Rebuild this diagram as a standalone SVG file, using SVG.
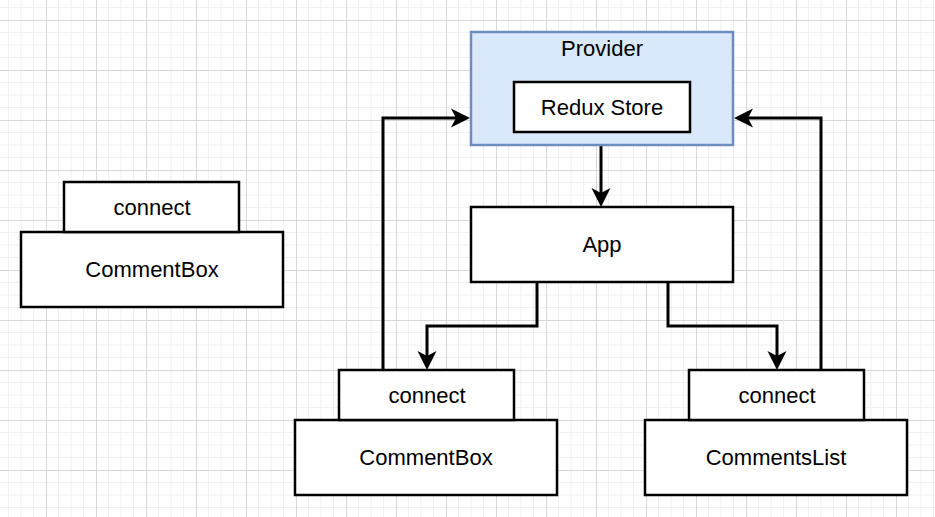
<svg xmlns="http://www.w3.org/2000/svg" width="935" height="517" viewBox="0 0 935 517">
  <style>
    .box { fill: #ffffff; stroke: #000000; stroke-width: 2.5; }
    .prov { fill: #dae8fc; stroke: #6c8ebf; stroke-width: 2.5; }
    .lbl { font-family: "Liberation Sans", Arial, sans-serif; font-size: 22px; fill: #000000; text-anchor: middle; }
    .edge { fill: none; stroke: #000000; stroke-width: 3; }
  </style>
  <defs>
    <pattern id="grid" patternUnits="userSpaceOnUse" x="46" y="20" width="50" height="50">
      <path d="M12.5 0V50M25 0V50M37.5 0V50M0 12.5H50M0 25H50M0 37.5H50" stroke="#f0f0f0" stroke-width="1" fill="none"/>
      <path d="M0.5 0V50M0 0.5H50" stroke="#d8d8d8" stroke-width="1" fill="none"/>
    </pattern>
    <marker id="arrow" viewBox="0 0 20 20" markerUnits="userSpaceOnUse" markerWidth="20" markerHeight="20" refX="5" refY="10" orient="auto">
      <path d="M0 0.5L19 10L0 19.5L5 10Z" fill="#000000"/>
    </marker>
  </defs>
  <rect x="0" y="0" width="935" height="517" fill="#ffffff"/>
  <rect x="0" y="0" width="935" height="517" fill="url(#grid)"/>

  <g id="connectors">
    <path class="edge" d="M601 146L601 193" marker-end="url(#arrow)"/>
    <path class="edge" d="M537 283L537 326L427 326L427 356" marker-end="url(#arrow)"/>
    <path class="edge" d="M668 283L668 326L777 326L777 356" marker-end="url(#arrow)"/>
    <path class="edge" d="M383 370L383 118L456 118" marker-end="url(#arrow)"/>
    <path class="edge" d="M821 370L821 118L748 118" marker-end="url(#arrow)"/>
  </g>

  <g id="provider">
    <rect class="prov" x="471" y="32" width="262" height="113"/>
    <text class="lbl" x="602" y="56">Provider</text>
  </g>
  <g id="redux-store">
    <rect class="box" x="514" y="82" width="176" height="50"/>
    <text class="lbl" x="602" y="115">Redux Store</text>
  </g>
  <g id="app">
    <rect class="box" x="471" y="207" width="262" height="75"/>
    <text class="lbl" x="602" y="252">App</text>
  </g>

  <g id="commentbox-left">
    <rect class="box" x="21" y="232" width="262" height="75"/>
    <text class="lbl" x="152" y="277">CommentBox</text>
  </g>
  <g id="connect-left">
    <rect class="box" x="64" y="182" width="175" height="50"/>
    <text class="lbl" x="152" y="215">connect</text>
  </g>

  <g id="commentbox-mid">
    <rect class="box" x="295" y="420" width="262" height="75"/>
    <text class="lbl" x="426" y="465">CommentBox</text>
  </g>
  <g id="connect-mid">
    <rect class="box" x="339" y="370" width="175" height="50"/>
    <text class="lbl" x="427" y="403">connect</text>
  </g>

  <g id="commentslist">
    <rect class="box" x="645" y="420" width="262" height="75"/>
    <text class="lbl" x="776" y="465">CommentsList</text>
  </g>
  <g id="connect-right">
    <rect class="box" x="689" y="370" width="175" height="50"/>
    <text class="lbl" x="777" y="403">connect</text>
  </g>
</svg>
